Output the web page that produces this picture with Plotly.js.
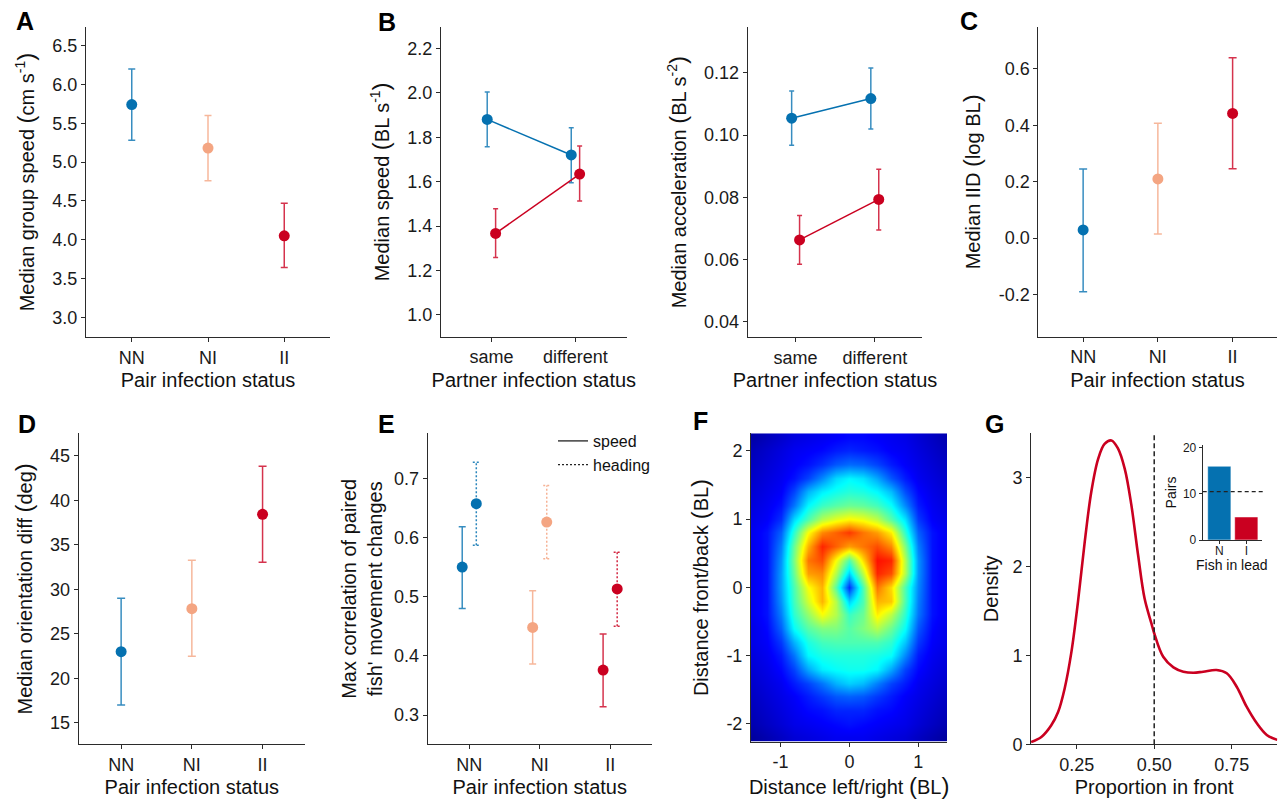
<!DOCTYPE html>
<html><head><meta charset="utf-8">
<script src="https://cdn.plot.ly/plotly-3.0.1.min.js"></script>
<style>html,body{margin:0;padding:0;background:#fff}#chart{width:1287px;height:804px}</style>
</head><body><div id="chart"></div>
<script>
// ================= DATA =================
const pairStatus = ['NN', 'NI', 'II'];
const partnerStatus = ['same', 'different'];

// A: median group speed (cm s-1)
const groupSpeed     = [5.74, 5.18, 4.05];
const groupSpeedLow  = [5.28, 4.76, 3.64];
const groupSpeedHigh = [6.20, 5.60, 4.47];

// B: median speed (BL s-1), uninfected vs infected focal fish
const speedUninf     = [1.880, 1.720];
const speedUninfLow  = [1.757, 1.595];
const speedUninfHigh = [2.003, 1.843];
const speedInf       = [1.367, 1.634];
const speedInfLow    = [1.258, 1.513];
const speedInfHigh   = [1.478, 1.760];

// B (right): median acceleration (BL s-2)
const accUninf     = [0.1054, 0.1117];
const accUninfLow  = [0.0967, 0.1019];
const accUninfHigh = [0.1141, 0.1215];
const accInf       = [0.0663, 0.0793];
const accInfLow    = [0.0585, 0.0695];
const accInfHigh   = [0.0741, 0.0890];

// C: median IID (log BL)
const iid     = [0.029, 0.210, 0.442];
const iidLow  = [-0.190, 0.015, 0.246];
const iidHigh = [0.245, 0.407, 0.639];

// D: median orientation difference (deg)
const orient     = [22.99, 27.82, 38.44];
const orientLow  = [17.00, 22.47, 33.04];
const orientHigh = [29.00, 33.27, 43.84];

// E: max correlation of movement changes
const corrSpeed      = [0.550, 0.448, 0.376];
const corrSpeedLow   = [0.480, 0.386, 0.314];
const corrSpeedHigh  = [0.618, 0.510, 0.437];
const corrHead       = [0.657, 0.626, 0.513];
const corrHeadLow    = [0.587, 0.564, 0.450];
const corrHeadHigh   = [0.727, 0.688, 0.575];

// F: relative position density (rows listed from front (top) to back (bottom))
const gridX = [-1.4, -1.2, -1.0, -0.8, -0.6, -0.4, -0.2, 0, 0.2, 0.4, 0.6, 0.8, 1.0, 1.2, 1.4];
const gridYTopDown = [2.2, 2.0, 1.8, 1.6, 1.4, 1.2, 1.0, 0.8, 0.6, 0.4, 0.2, 0, -0.2, -0.4, -0.6, -0.8, -1.0, -1.2, -1.4, -1.6, -1.8, -2.0, -2.2];
const densityRowsTopDown = [
  [0.03,0.05,0.07,0.09,0.10,0.11,0.12,0.13,0.13,0.12,0.11,0.10,0.08,0.06,0.04],
  [0.05,0.07,0.09,0.11,0.12,0.13,0.15,0.16,0.15,0.14,0.12,0.11,0.09,0.07,0.05],
  [0.06,0.08,0.10,0.12,0.14,0.17,0.21,0.23,0.22,0.19,0.15,0.12,0.10,0.08,0.06],
  [0.07,0.09,0.11,0.14,0.19,0.26,0.34,0.37,0.35,0.29,0.21,0.15,0.11,0.09,0.07],
  [0.08,0.10,0.12,0.19,0.30,0.36,0.39,0.41,0.40,0.37,0.31,0.20,0.13,0.10,0.08],
  [0.09,0.11,0.14,0.24,0.37,0.43,0.46,0.48,0.47,0.44,0.38,0.26,0.15,0.11,0.09],
  [0.10,0.12,0.17,0.34,0.45,0.55,0.60,0.63,0.61,0.56,0.46,0.35,0.18,0.12,0.10],
  [0.11,0.14,0.22,0.42,0.62,0.74,0.78,0.82,0.76,0.72,0.64,0.42,0.22,0.14,0.11],
  [0.11,0.14,0.25,0.48,0.70,0.84,0.78,0.72,0.76,0.80,0.74,0.50,0.25,0.14,0.11],
  [0.11,0.14,0.27,0.50,0.76,0.80,0.62,0.45,0.66,0.86,0.84,0.55,0.27,0.14,0.11],
  [0.11,0.14,0.28,0.48,0.72,0.74,0.55,0.33,0.56,0.84,0.80,0.55,0.27,0.14,0.11],
  [0.11,0.14,0.28,0.45,0.62,0.70,0.46,0.17,0.45,0.76,0.66,0.45,0.26,0.14,0.11],
  [0.11,0.14,0.27,0.44,0.58,0.70,0.55,0.33,0.45,0.70,0.68,0.45,0.25,0.14,0.11],
  [0.11,0.14,0.25,0.42,0.52,0.62,0.55,0.43,0.48,0.64,0.56,0.42,0.24,0.14,0.11],
  [0.10,0.13,0.22,0.38,0.46,0.50,0.50,0.46,0.50,0.55,0.48,0.38,0.21,0.13,0.10],
  [0.10,0.12,0.18,0.30,0.40,0.44,0.45,0.45,0.45,0.45,0.42,0.32,0.18,0.12,0.10],
  [0.09,0.11,0.15,0.24,0.37,0.40,0.41,0.41,0.41,0.40,0.38,0.26,0.15,0.11,0.09],
  [0.08,0.10,0.13,0.19,0.29,0.36,0.38,0.39,0.39,0.37,0.29,0.19,0.13,0.10,0.08],
  [0.07,0.09,0.11,0.15,0.19,0.24,0.30,0.33,0.31,0.25,0.19,0.15,0.11,0.09,0.07],
  [0.06,0.08,0.10,0.12,0.15,0.18,0.21,0.22,0.21,0.18,0.15,0.12,0.10,0.08,0.06],
  [0.05,0.07,0.09,0.11,0.13,0.14,0.16,0.16,0.16,0.14,0.13,0.11,0.09,0.07,0.05],
  [0.04,0.06,0.08,0.10,0.11,0.12,0.13,0.14,0.13,0.12,0.11,0.10,0.08,0.06,0.04],
  [0.02,0.04,0.06,0.08,0.09,0.10,0.11,0.11,0.11,0.10,0.09,0.08,0.06,0.04,0.02]
];

// G: density of proportion of time in front
const propFront = [0.103,0.136,0.168,0.190,0.211,0.233,0.254,0.276,0.297,0.319,0.340,0.362,0.383,0.405,0.426,0.448,0.469,0.491,0.500,0.529,0.562,0.594,0.626,0.658,0.701,0.734,0.766,0.798,0.831,0.863,0.897];
const propDensity = [0.026,0.082,0.214,0.363,0.626,1.04,1.60,2.28,2.84,3.21,3.38,3.42,3.33,3.10,2.70,2.13,1.64,1.36,1.25,0.985,0.866,0.817,0.805,0.817,0.836,0.799,0.648,0.423,0.236,0.105,0.050];
const equalShare = 0.5;

// G inset: fish in lead
const leadFish = ['N', 'I'];
const leadPairs = [16, 5];
const leadExpected = 10.5;

// tick values
const ticksA = [3.0, 3.5, 4.0, 4.5, 5.0, 5.5, 6.0, 6.5];
const ticksB = [1.0, 1.2, 1.4, 1.6, 1.8, 2.0, 2.2];
const ticksB2 = [0.04, 0.06, 0.08, 0.10, 0.12];
const ticksC = [-0.2, 0.0, 0.2, 0.4, 0.6];
const ticksD = [15, 20, 25, 30, 35, 40, 45];
const ticksE = [0.3, 0.4, 0.5, 0.6, 0.7];
const ticksFx = [-1, 0, 1];
const ticksFy = [-2, -1, 0, 1, 2];
const ticksGx = [0.25, 0.50, 0.75];
const ticksGy = [0, 1, 2, 3];
const ticksInset = [0, 10, 20];

// ================= STYLE / BUILD =================
const W = 1287, H = 804;
const xd = (a, b) => [a / W, b / W];
const yd = (t, b) => [1 - b / H, 1 - t / H];
const FONT = 'Liberation Sans, Arial, Helvetica, sans-serif';
const C_N = '#0571b0', C_NI = '#f4a582', C_I = '#ca0020';
const pairColors = [C_N, C_NI, C_I];
function rgba(hex, a) {
  const n = parseInt(hex.slice(1), 16);
  return 'rgba(' + (n >> 16 & 255) + ',' + (n >> 8 & 255) + ',' + (n & 255) + ',' + a + ')';
}
const P = s => '<span style="font-size:24px">' + s + '</span>';

function axis(o) {
  return Object.assign({
    showline: true, linecolor: '#2b2b2b', linewidth: 1, ticks: 'outside', ticklen: 4, tickwidth: 1,
    tickcolor: '#2b2b2b', showgrid: false, zeroline: false, fixedrange: true, automargin: false,
    tickfont: { family: FONT, size: 18, color: '#1a1a1a' }
  }, o);
}
function ttl(text, standoff, size) {
  return { text: text, standoff: standoff, font: { family: FONT, size: size || 20, color: '#111' } };
}
function tv(vals, dec) { return { tickmode: 'array', tickvals: vals, ticktext: vals.map(v => v.toFixed(dec)) }; }

const traces = [];
function errPoints(xa, ya, x, y, lo, hi, color, capw, mode, extra) {
  return Object.assign({
    type: 'scatter', mode: mode || 'markers', xaxis: xa, yaxis: ya, x: x, y: y, showlegend: false, hoverinfo: 'skip',
    marker: { size: 11, color: color, line: { width: 0 } },
    error_y: { type: 'data', symmetric: false, array: y.map((v, i) => hi[i] - v), arrayminus: y.map((v, i) => v - lo[i]),
      color: rgba(color, 0.8), thickness: 1.5, width: capw }
  }, extra || {});
}

// A
pairStatus.forEach((c, i) => traces.push(errPoints('x', 'y', [i], [groupSpeed[i]], [groupSpeedLow[i]], [groupSpeedHigh[i]], pairColors[i], 3.5)));
// B
const dodgeB = 0.05;
traces.push(errPoints('x2', 'y2', partnerStatus.map((c, i) => i - dodgeB), speedUninf, speedUninfLow, speedUninfHigh, C_N, 2.5, 'lines+markers', { line: { color: C_N, width: 1.5 } }));
traces.push(errPoints('x2', 'y2', partnerStatus.map((c, i) => i + dodgeB), speedInf, speedInfLow, speedInfHigh, C_I, 2.5, 'lines+markers', { line: { color: C_I, width: 1.5 } }));
// B right
traces.push(errPoints('x3', 'y3', partnerStatus.map((c, i) => i - dodgeB), accUninf, accUninfLow, accUninfHigh, C_N, 2.5, 'lines+markers', { line: { color: C_N, width: 1.5 } }));
traces.push(errPoints('x3', 'y3', partnerStatus.map((c, i) => i + dodgeB), accInf, accInfLow, accInfHigh, C_I, 2.5, 'lines+markers', { line: { color: C_I, width: 1.5 } }));
// C
pairStatus.forEach((c, i) => traces.push(errPoints('x4', 'y4', [i], [iid[i]], [iidLow[i]], [iidHigh[i]], pairColors[i], 4)));
// D
pairStatus.forEach((c, i) => traces.push(errPoints('x5', 'y5', [i], [orient[i]], [orientLow[i]], [orientHigh[i]], pairColors[i], 4)));
// E
const dodgeE = 0.1, capE = 0.05;
pairStatus.forEach((c, i) => {
  traces.push(errPoints('x6', 'y6', [i - dodgeE], [corrSpeed[i]], [corrSpeedLow[i]], [corrSpeedHigh[i]], pairColors[i], 3.5));
  const xc = i + dodgeE, lo = corrHeadLow[i], hi = corrHeadHigh[i];
  traces.push({ type: 'scatter', mode: 'lines', xaxis: 'x6', yaxis: 'y6', showlegend: false, hoverinfo: 'skip',
    x: [xc, xc, null, xc - capE, xc + capE, null, xc - capE, xc + capE],
    y: [lo, hi, null, lo, lo, null, hi, hi],
    line: { color: rgba(pairColors[i], 0.85), width: 1.5, dash: '2px,2px' } });
  traces.push({ type: 'scatter', mode: 'markers', xaxis: 'x6', yaxis: 'y6', showlegend: false, hoverinfo: 'skip',
    x: [xc], y: [corrHead[i]], marker: { size: 11, color: pairColors[i], line: { width: 0 } } });
});
traces.push({ type: 'scatter', mode: 'lines', xaxis: 'x6', yaxis: 'y6', x: [null], y: [null], name: 'speed', line: { color: '#222', width: 1.3 }, showlegend: true });
traces.push({ type: 'scatter', mode: 'lines', xaxis: 'x6', yaxis: 'y6', x: [null], y: [null], name: 'heading', line: { color: '#222', width: 1.3, dash: '2px,2px' }, showlegend: true });
// F
const JET = [[0, 'rgb(0,0,140)'], [0.125, 'rgb(0,0,255)'], [0.375, 'rgb(0,255,255)'], [0.625, 'rgb(255,255,0)'], [0.875, 'rgb(255,0,0)'], [1, 'rgb(128,0,0)']];
traces.push({ type: 'heatmap', xaxis: 'x7', yaxis: 'y7', x: gridX, y: gridYTopDown.slice().reverse(), z: densityRowsTopDown.slice().reverse(),
  colorscale: JET, zmin: 0, zmax: 1, zsmooth: 'best', showscale: false, hoverinfo: 'skip' });
// G
traces.push({ type: 'scatter', mode: 'lines', xaxis: 'x8', yaxis: 'y8', x: propFront, y: propDensity, showlegend: false, hoverinfo: 'skip',
  line: { color: C_I, width: 2.6, shape: 'spline', smoothing: 1 } });
// inset
traces.push({ type: 'bar', xaxis: 'x9', yaxis: 'y9', x: leadFish, y: leadPairs, width: 0.86, showlegend: false, hoverinfo: 'skip',
  marker: { color: [C_N, C_I], line: { color: 'rgba(255,255,255,0.55)', width: 1 } } });

const catAxis = (cats, dom, range, title) => axis({ domain: dom, range: range, tickmode: 'array', tickvals: cats.map((c, i) => i), ticktext: cats, title: title });

const layout = {
  width: W, height: H, margin: { l: 0, r: 0, t: 0, b: 0 }, paper_bgcolor: '#fff', plot_bgcolor: 'rgba(0,0,0,0)',
  font: { family: FONT, color: '#111' }, showlegend: true,
  legend: { x: 553 / W, y: 1 - 424 / H, xanchor: 'left', yanchor: 'top', bgcolor: 'rgba(0,0,0,0)', itemwidth: 30, tracegroupgap: 0,
    font: { family: FONT, size: 16, color: '#111' } },
  // A
  xaxis: catAxis(pairStatus, xd(86, 330), [-0.6, 2.6], ttl('Pair infection status', 6)),
  yaxis: axis(Object.assign({ domain: yd(27, 337), range: [2.746, 6.74], anchor: 'x', title: ttl('Median group speed ' + P('(') + 'cm s<sup>-1</sup>' + P(')'), 12) }, tv(ticksA, 1))),
  // B
  xaxis2: Object.assign(catAxis(partnerStatus, xd(441, 626.7), [-0.6, 1.61], ttl('Partner infection status', 6)), { anchor: 'y2' }),
  yaxis2: axis(Object.assign({ domain: yd(27, 336.7), range: [0.902, 2.296], anchor: 'x2', title: ttl('Median speed ' + P('(') + 'BL s<sup>-1</sup>' + P(')'), 12) }, tv(ticksB, 1))),
  // B right
  xaxis3: Object.assign(catAxis(partnerStatus, xd(747.7, 922.3), [-0.605, 1.6], ttl('Partner infection status', 6)), { anchor: 'y3' }),
  yaxis3: axis(Object.assign({ domain: yd(27, 337.3), range: [0.035, 0.1347], anchor: 'x3', title: ttl('Median acceleration ' + P('(') + 'BL s<sup>-2</sup>' + P(')'), 12) }, tv(ticksB2, 2))),
  // C
  xaxis4: Object.assign(catAxis(pairStatus, xd(1038.3, 1276.7), [-0.6, 2.59], ttl('Pair infection status', 6)), { anchor: 'y4' }),
  yaxis4: axis(Object.assign({ domain: yd(27, 336.7), range: [-0.349, 0.748], anchor: 'x4', title: ttl('Median IID ' + P('(') + 'log BL' + P(')'), 12) }, tv(ticksC, 1))),
  // D
  xaxis5: Object.assign(catAxis(pairStatus, xd(78.7, 305), [-0.6, 2.6], ttl('Pair infection status', 6)), { anchor: 'y5' }),
  yaxis5: axis(Object.assign({ domain: yd(433.3, 744.3), range: [12.57, 47.55], anchor: 'x5', title: ttl('Median orientation diff ' + P('(') + 'deg' + P(')'), 12) }, tv(ticksD, 0))),
  // E
  xaxis6: Object.assign(catAxis(pairStatus, xd(427.7, 651.7), [-0.59, 2.59], ttl('Pair infection status', 6)), { anchor: 'y6' }),
  yaxis6: axis(Object.assign({ domain: yd(433.3, 744.3), range: [0.2505, 0.776], anchor: 'x6', title: ttl('Max correlation of paired<br>fish\' movement changes', 6) }, tv(ticksE, 1))),
  // F
  xaxis7: axis(Object.assign({ domain: xd(751, 947.3), range: [-1.43, 1.42], anchor: 'y7', title: ttl('Distance left/right ' + P('(') + 'BL' + P(')'), 6) }, tv(ticksFx, 0))),
  yaxis7: axis(Object.assign({ domain: yd(433.3, 741.7), range: [-2.26, 2.255], anchor: 'x7', title: ttl('Distance front/back ' + P('(') + 'BL' + P(')'), 12) }, tv(ticksFy, 0))),
  // G
  xaxis8: axis(Object.assign({ domain: xd(1031, 1277.3), range: [0.1026, 0.897], anchor: 'y8', title: ttl('Proportion in front', 6) }, tv(ticksGx, 2))),
  yaxis8: axis(Object.assign({ domain: yd(433.3, 744.3), range: [0, 3.5], anchor: 'x8', title: ttl('Density', 8) }, tv(ticksGy, 0))),
  // inset
  xaxis9: axis({ domain: xd(1202.7, 1261.7), range: [-0.615, 1.57], anchor: 'y9', type: 'category', ticklen: 3, ticklabelstandoff: -3,
    tickfont: { family: FONT, size: 12, color: '#1a1a1a' } }),
  yaxis9: axis(Object.assign({ domain: yd(445, 540), range: [0, 20.6], anchor: 'x9', ticklen: 3,
    tickfont: { family: FONT, size: 12, color: '#1a1a1a' }, title: ttl('Pairs', 3, 14) }, tv(ticksInset, 0))),
  shapes: [
    { type: 'line', xref: 'x8', yref: 'y8 domain', x0: equalShare, x1: equalShare, y0: 0, y1: 1, line: { color: '#222', width: 1.5, dash: '5px,3px' } },
    { type: 'line', xref: 'x9 domain', yref: 'y9', x0: 0, x1: 1.02, y0: leadExpected, y1: leadExpected, line: { color: '#222', width: 1.3, dash: '4px,3px' } }
  ],
  annotations: [['A', 14, 21], ['B', 376, 21.7], ['C', 957.5, 21], ['D', 16, 424], ['E', 376, 424], ['F', 691, 421], ['G', 983, 424]].map(a => ({
    text: '<b>' + a[0] + '</b>', xref: 'paper', yref: 'paper', x: a[1] / W, y: 1 - a[2] / H, xanchor: 'left', yanchor: 'middle',
    showarrow: false, font: { family: FONT, size: 25, color: '#000' }
  })).concat([{
    text: 'Fish in lead', xref: 'x9 domain', yref: 'paper', x: 0.5, y: 1 - 565 / H, xanchor: 'center', yanchor: 'middle',
    showarrow: false, font: { family: FONT, size: 14, color: '#111' }
  }])
};

Plotly.newPlot('chart', traces, layout, { displayModeBar: false, staticPlot: true });
</script>
</body></html>
